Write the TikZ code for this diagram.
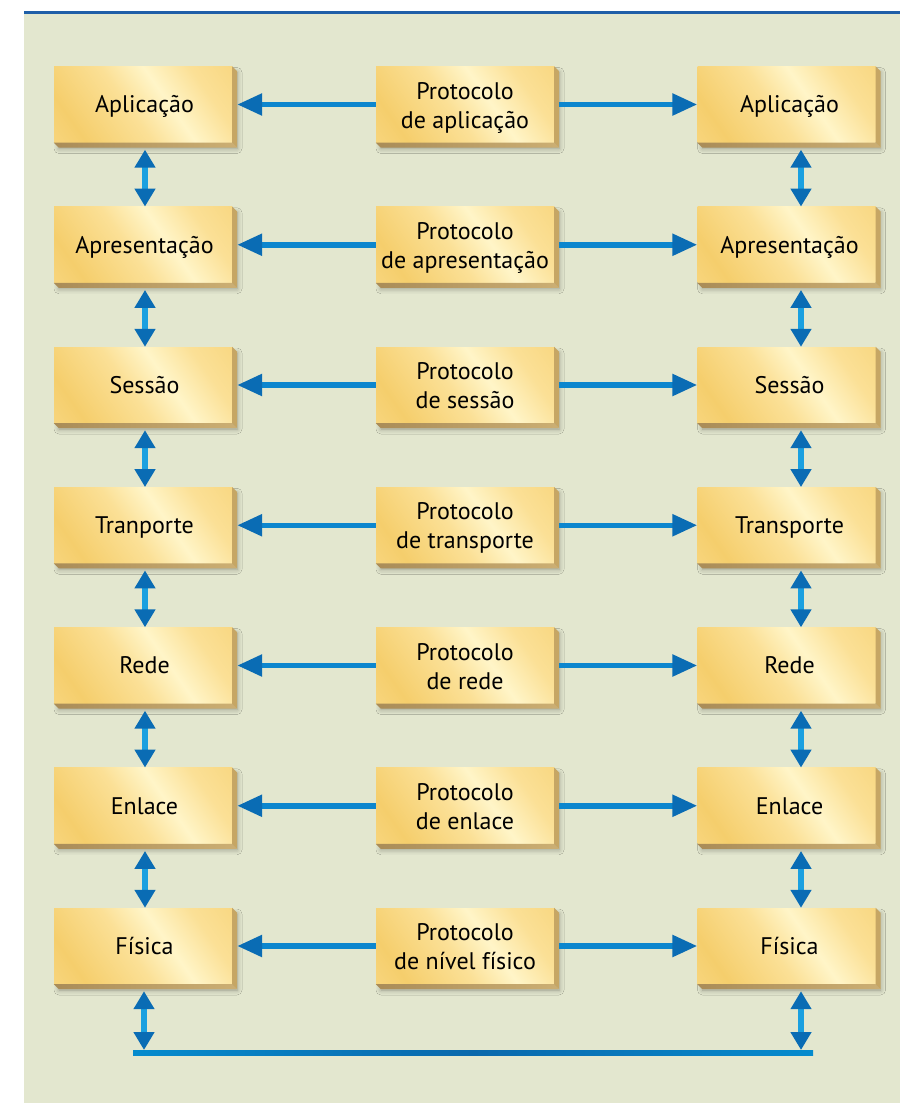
\documentclass[tikz,border=0pt]{standalone}
\usepackage{fontspec}
\setmainfont{PT Sans}
\usetikzlibrary{arrows.meta,shadows.blur,calc}

\definecolor{panel}{HTML}{E3E7CF}
\definecolor{topline}{HTML}{1F5FA8}
\definecolor{goldA}{HTML}{F5CE6C}
\definecolor{goldB}{HTML}{FBE096}
\definecolor{goldC}{HTML}{FFF5C8}
\definecolor{sideR}{HTML}{C6A664}
\definecolor{sideB}{HTML}{A98C58}
\definecolor{shaftH}{HTML}{0C86CE}
\definecolor{shaftV}{HTML}{1AA0E0}
\definecolor{tipblue}{HTML}{0A6CB4}
\definecolor{busLight}{HTML}{00AEEF}
\definecolor{busDark}{HTML}{0A68AC}

% golden face with a soft diagonal highlight
\pgfdeclarehorizontalshading{goldface}{100bp}{%
  color(0bp)=(goldB); color(25bp)=(goldA); color(45bp)=(goldB);
  color(58bp)=(goldC); color(72bp)=(goldB); color(100bp)=(goldA)}
% bus line: light at both ends, dark in the middle
\pgfdeclarehorizontalshading{busline}{100bp}{%
  color(0bp)=(busLight); color(50bp)=(busDark); color(100bp)=(busLight)}

\tikzset{
  layerbox/.style={shade, shading=goldface, shading angle=35,
    minimum width=178pt, minimum height=76pt, inner sep=0pt,
    align=center, text=black, text depth=0pt,
    font=\fontsize{24}{29}\selectfont,
    blur shadow={shadow xshift=5pt, shadow yshift=-6pt,
      shadow blur radius=5pt, shadow opacity=35}},
  onelinebox/.style={layerbox, text height=16.5pt},
  twolinebox/.style={layerbox, text height=47pt},
  harrow/.style={line width=5.5pt, draw=shaftH,
    -{Triangle[length=25pt,width=21pt,color=tipblue]}},
  varrow/.style={line width=6pt, draw=shaftV,
    {Triangle[length=18pt,width=20pt,color=tipblue]}-{Triangle[length=18pt,width=20pt,color=tipblue]}},
}

% a raised block: front face plus right and bottom bevels
\newcommand\goldblock[4]{%
  \node[#4] (#1) at (#2) {#3};
  \fill[sideR] (#1.north east) -- ++(5,5) -- ($(#1.south east)+(5,5)$)
    -- (#1.south east) -- cycle;
  \shade[left color=sideB, right color=sideR!90!white]
    (#1.south west) -- (#1.south east) -- ++(5,5)
    -- ($(#1.south west)+(5,5)$) -- cycle;
}

\begin{document}
\begin{tikzpicture}[x=1pt, y=-1pt]
  \useasboundingbox (0,0) rectangle (900,1103);
  \fill[white] (0,0) rectangle (900,1103);
  \fill[panel] (24,14) rectangle (900,1103);
  \draw[topline, line width=3pt] (24,12.5) -- (900,12.5);

  % the seven layers on each side, with the peer protocol between them
  \foreach \i/\lt/\mt/\rt in {
      1/Aplicação/{Protocolo\\de aplicação}/Aplicação,
      2/Apresentação/{Protocolo\\de apresentação}/Apresentação,
      3/Sessão/{Protocolo\\de sessão}/Sessão,
      4/Tranporte/{Protocolo\\de transporte}/Transporte,
      5/Rede/{Protocolo\\de rede}/Rede,
      6/Enlace/{Protocolo\\de enlace}/Enlace,
      7/Física/{Protocolo\\de nível físico}/Física}{
    \pgfmathsetmacro\yy{104.5+140.25*(\i-1)}
    \goldblock{l\i}{143,\yy}{\hspace*{3pt}\lt}{onelinebox}
    \goldblock{m\i}{465,\yy}{\mt}{twolinebox}
    \goldblock{r\i}{786.5,\yy}{\hspace*{6pt}\rt}{onelinebox}
    \draw[harrow] (m\i.west) -- ([xshift=5pt]l\i.east);
    \draw[harrow] ([xshift=5pt]m\i.east) -- (r\i.west);
  }

  % vertical service arrows between adjacent layers
  \foreach \i [evaluate=\i as \j using int(\i+1)] in {1,...,6}{
    \draw[varrow] ($(l\i.south)+(2,7)$) -- ($(l\j.north)+(2,0)$);
    \draw[varrow] ($(r\i.south)+(14.5,7)$) -- ($(r\j.north)+(14.5,0)$);
  }

  % physical medium
  \coordinate (busL) at (133,1053);
  \coordinate (busR) at (813,1053);
  \coordinate (tapL) at (144,1050);
  \coordinate (tapR) at (801,1050);
  \shade[shading=busline] ($(busL)+(0,-2.5)$) rectangle ($(busR)+(0,2.5)$);
  \draw[varrow] ($(l7.south)+(1,7)$) -- (tapL);
  \draw[varrow] ($(r7.south)+(14.5,7)$) -- (tapR);
\end{tikzpicture}
\end{document}
